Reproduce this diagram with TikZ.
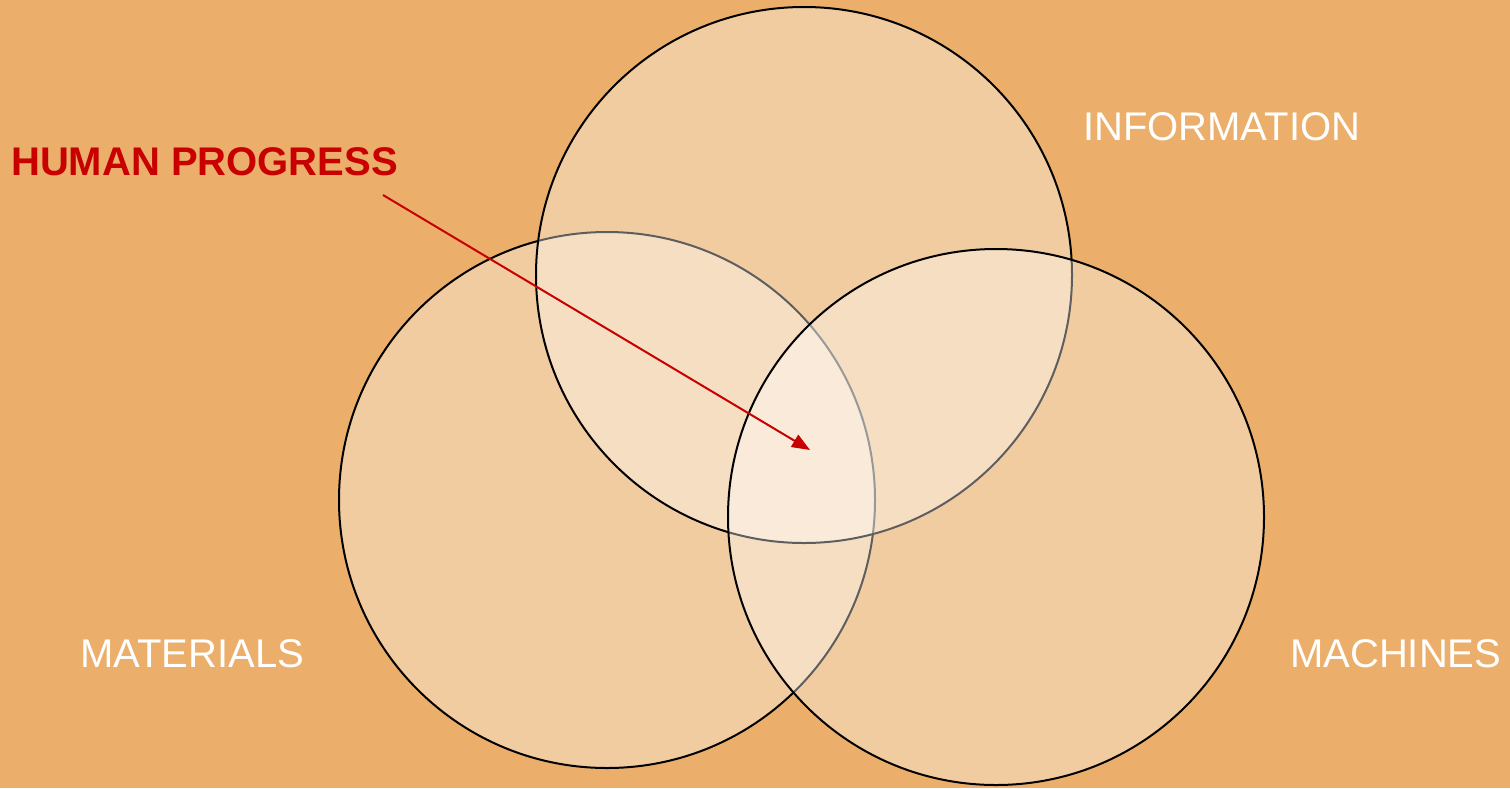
\documentclass[tikz,border=0pt]{standalone}
\usepackage{fontspec}
\setmainfont{Liberation Sans}
\usetikzlibrary{arrows.meta}
\definecolor{bg}{RGB}{235,175,107}
\definecolor{hred}{RGB}{200,0,0}
\begin{document}
\begin{tikzpicture}[x=1pt,y=-1pt,
  venn/.style={draw=black,line width=2pt,fill=white,fill opacity=0.37},
  lbl/.style={anchor=base west,inner sep=0pt,text=white,font=\fontsize{40}{46}\selectfont},
  hp/.style={anchor=base west,inner sep=0pt,text=hred,font=\fontsize{40}{46}\selectfont\bfseries}]
\fill[bg] (0,0) rectangle (1510,788);
\useasboundingbox (0,0) rectangle (1510,788);
\draw[venn] (607,500) circle[radius=268];
\draw[venn] (804,275) circle[radius=268];
\draw[venn] (996,517) circle[radius=268];
\node[lbl] (info) at (1083,140) {INFORMATION};
\node[lbl] (mat) at (80,667) {MATERIALS};
\node[lbl] (mach) at (1290,667) {MACHINES};
\node[hp] (human) at (11,175) {HUMAN PROGRESS};
\coordinate (from) at (383,195);
\coordinate (to) at (810,450);
\draw[hred,line width=2pt,-{Triangle[length=18pt,width=14pt]}] (from) -- (to);
\end{tikzpicture}
\end{document}
